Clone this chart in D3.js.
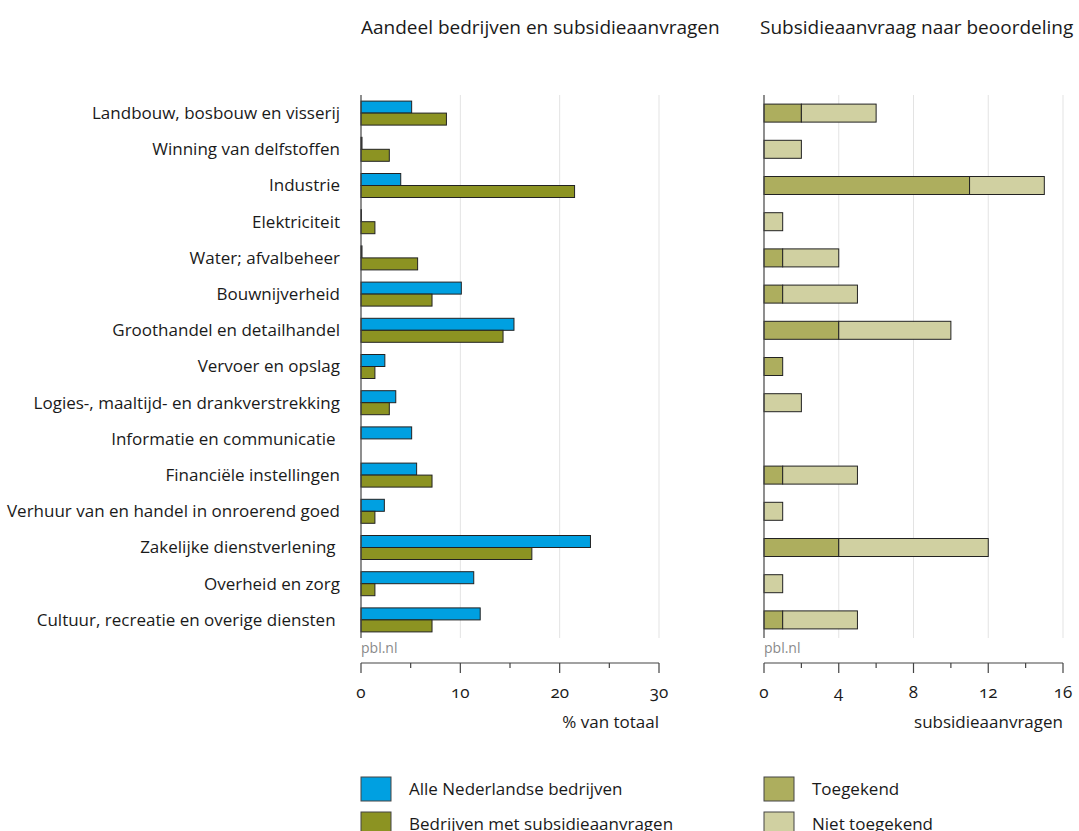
<!DOCTYPE html>
<html>
<head>
<meta charset="utf-8">
<script src="https://cdn.jsdelivr.net/npm/d3@7/dist/d3.min.js"></script>
<style>
  body { margin: 0; background: #fff; }
  text { font-family: "Open Sans", "Noto Sans", sans-serif; fill: #1a1a1a; }
  .num { font-variant-numeric: oldstyle-nums; }
</style>
</head>
<body>
<svg id="chart" width="1079" height="831"></svg>
<script>
// sectors, top to bottom
var sectors = [
  "Landbouw, bosbouw en visserij",
  "Winning van delfstoffen",
  "Industrie",
  "Elektriciteit",
  "Water; afvalbeheer",
  "Bouwnijverheid",
  "Groothandel en detailhandel",
  "Vervoer en opslag",
  "Logies-, maaltijd- en drankverstrekking",
  "Informatie en communicatie ",
  "Financiële instellingen",
  "Verhuur van en handel in onroerend goed",
  "Zakelijke dienstverlening ",
  "Overheid en zorg",
  "Cultuur, recreatie en overige diensten "
];

// % van totaal
var alleBedrijven = [5.1, 0.1, 4.0, 0.05, 0.1, 10.1, 15.4, 2.4, 3.5, 5.1, 5.6, 2.35, 23.1, 11.35, 12.0];
var metAanvragen  = [8.6, 2.85, 21.5, 1.4, 5.7, 7.15, 14.3, 1.4, 2.85, 0, 7.15, 1.4, 17.2, 1.4, 7.15];

// aantal subsidieaanvragen
var toegekend     = [2, 0, 11, 0, 1, 1, 4, 1, 0, 0, 1, 0, 4, 0, 1];
var nietToegekend = [4, 2, 4, 1, 3, 4, 6, 0, 2, 0, 4, 1, 8, 1, 4];

var leftTicks = [0, 10, 20, 30];
var rightTicks = [0, 4, 8, 12, 16];

var colors = {
  alle: "#00a0e1",
  met: "#8c9322",
  toe: "#adae5e",
  niet: "#d0d0a1"
};

var svg = d3.select("#chart");
var plotTop = 95, plotBottom = 638, axisY = 663;

var y = d3.scaleBand().domain(d3.range(sectors.length)).range([plotTop, plotBottom]);

var xL = d3.scaleLinear().domain([0, 30]).range([361, 659]);
var xR = d3.scaleLinear().domain([0, 16]).range([764, 1063]);

// titles
svg.append("text").attr("x", 361).attr("y", 34).style("font-size", "19px")
  .text("Aandeel bedrijven en subsidieaanvragen");
svg.append("text").attr("x", 760).attr("y", 34).style("font-size", "19px")
  .text("Subsidieaanvraag naar beoordeling");

// category labels
svg.append("g").selectAll("text")
  .data(sectors)
  .enter().append("text")
    .attr("x", 340)
    .attr("y", function(d, i) { return y(i) + y.bandwidth() / 2; })
    .attr("dy", "0.35em")
    .attr("text-anchor", "end")
    .style("font-size", "17px")
    .style("white-space", "pre")
    .text(function(d) { return d; });

function panel(x, ticks, minorStep) {
  var g = svg.append("g");
  // grid
  g.selectAll(".grid")
    .data(ticks.slice(1))
    .enter().append("line")
      .attr("x1", function(d) { return x(d); })
      .attr("x2", function(d) { return x(d); })
      .attr("y1", plotTop).attr("y2", plotBottom)
      .attr("stroke", "#e3e3e3").attr("stroke-width", 1);
  // bottom axis
  var ax = svg.append("g").attr("transform", "translate(0," + axisY + ")");
  var minor = d3.range(x.domain()[0], x.domain()[1] + 0.001, minorStep);
  ax.append("line").attr("x1", x.range()[0]).attr("x2", x.range()[1])
    .attr("stroke", "#444").attr("stroke-width", 1.2);
  ax.selectAll(".minor").data(minor).enter().append("line")
    .attr("x1", function(d) { return x(d); })
    .attr("x2", function(d) { return x(d); })
    .attr("y1", 0)
    .attr("y2", function(d) { return ticks.indexOf(d) >= 0 ? 10 : 5; })
    .attr("stroke", "#444").attr("stroke-width", 1.2);
  ax.selectAll(".lab").data(ticks).enter().append("text")
    .attr("class", "num")
    .attr("x", function(d) { return x(d); })
    .attr("y", 35)
    .attr("text-anchor", "middle")
    .style("font-size", "17px")
    .text(function(d) { return d; });
  return g;
}

var gL = panel(xL, leftTicks, 5);
var gR = panel(xR, rightTicks, 2);

// left bars
gL.selectAll(".alle").data(alleBedrijven).enter().append("rect")
  .attr("x", xL(0))
  .attr("y", function(d, i) { return y(i) + y.bandwidth() / 2 - 12; })
  .attr("width", function(d) { return xL(d) - xL(0); })
  .attr("height", 12)
  .attr("fill", colors.alle).attr("stroke", "#222").attr("stroke-width", 1);
gL.selectAll(".met").data(metAanvragen).enter().append("rect")
  .attr("x", xL(0))
  .attr("y", function(d, i) { return y(i) + y.bandwidth() / 2; })
  .attr("width", function(d) { return xL(d) - xL(0); })
  .attr("height", 12)
  .attr("fill", colors.met).attr("stroke", "#222").attr("stroke-width", 1);

// right stacked bars
gR.selectAll(".toe").data(toegekend).enter().append("rect")
  .attr("x", xR(0))
  .attr("y", function(d, i) { return y(i) + y.bandwidth() / 2 - 9; })
  .attr("width", function(d) { return xR(d) - xR(0); })
  .attr("height", 18)
  .attr("fill", colors.toe).attr("stroke", "#222").attr("stroke-width", 1);
gR.selectAll(".niet").data(nietToegekend).enter().append("rect")
  .attr("x", function(d, i) { return xR(toegekend[i]); })
  .attr("y", function(d, i) { return y(i) + y.bandwidth() / 2 - 9; })
  .attr("width", function(d, i) { return xR(toegekend[i] + d) - xR(toegekend[i]); })
  .attr("height", 18)
  .attr("fill", colors.niet).attr("stroke", "#222").attr("stroke-width", 1);

// vertical zero lines
[xL, xR].forEach(function(x) {
  svg.append("line").attr("x1", x(0)).attr("x2", x(0))
    .attr("y1", plotTop).attr("y2", plotBottom)
    .attr("stroke", "#444").attr("stroke-width", 1.2);
  svg.append("text").attr("x", x(0)).attr("y", 653)
    .style("font-size", "14px").style("fill", "#8a8a8a")
    .text("pbl.nl");
});

// axis titles
svg.append("text").attr("x", 659).attr("y", 728).attr("text-anchor", "end")
  .style("font-size", "17px").text("% van totaal");
svg.append("text").attr("x", 1063).attr("y", 728).attr("text-anchor", "end")
  .style("font-size", "17px").text("subsidieaanvragen");

// legend
var legend = [
  { x: 361, y: 777, c: colors.alle, t: "Alle Nederlandse bedrijven" },
  { x: 361, y: 812, c: colors.met, t: "Bedrijven met subsidieaanvragen" },
  { x: 764, y: 777, c: colors.toe, t: "Toegekend" },
  { x: 764, y: 812, c: colors.niet, t: "Niet toegekend" }
];
var lg = svg.append("g").selectAll("g").data(legend).enter().append("g");
lg.append("rect")
  .attr("x", function(d) { return d.x; })
  .attr("y", function(d) { return d.y; })
  .attr("width", 30).attr("height", 24)
  .attr("fill", function(d) { return d.c; })
  .attr("stroke", "#444").attr("stroke-width", 1);
lg.append("text")
  .attr("x", function(d) { return d.x + 48; })
  .attr("y", function(d) { return d.y + 12; })
  .attr("dy", "0.35em")
  .style("font-size", "17px")
  .text(function(d) { return d.t; });
</script>
</body>
</html>
